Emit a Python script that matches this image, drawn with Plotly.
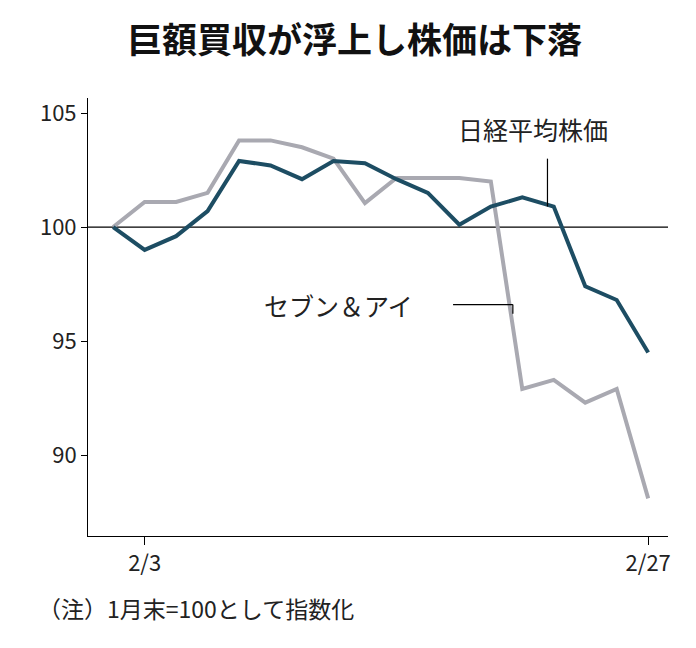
import plotly.graph_objects as go

dates = ["1/31","2/3","2/4","2/5","2/6","2/7","2/10","2/12","2/13","2/14","2/17","2/18","2/19","2/20","2/21","2/25","2/26","2/27"]
nikkei = [100,99.0,99.6,100.7,102.9,102.7,102.1,102.9,102.8,102.1,101.5,100.1,100.9,101.3,100.9,97.4,96.8,94.5]
seven = [100,101.1,101.1,101.5,103.8,103.8,103.5,103.0,101.05,102.15,102.15,102.15,102.0,92.9,93.3,92.3,92.9,88.1]
tick_vals = [1,17]
tick_text = ["2/3","2/27"]
y_ticks = [90,95,100,105]

x = list(range(len(dates)))
F = "Noto Sans CJK JP"
fig = go.Figure()
fig.add_trace(go.Scatter(x=x, y=seven, mode="lines", line=dict(color="#a9a9b1", width=4)))
fig.add_trace(go.Scatter(x=x, y=nikkei, mode="lines", line=dict(color="#1d4d63", width=4)))
fig.add_shape(type="line", xref="paper", x0=0, x1=1, y0=100, y1=100, line=dict(color="black", width=1.2), layer="below")
fig.add_shape(type="line", x0=13.8, x1=13.8, y0=100.9, y1=103.0, line=dict(color="black", width=1.2))
fig.add_shape(type="line", x0=10.8, x1=12.7, y0=96.6, y1=96.6, line=dict(color="black", width=1.2))
fig.add_shape(type="line", x0=12.7, x1=12.7, y0=96.6, y1=96.2, line=dict(color="black", width=1.2))
fig.add_annotation(x=13.35, y=104.3, text="日経平均株価", showarrow=False, font=dict(family=F, size=25, color="#222"))
fig.add_annotation(x=7.15, y=96.6, text="セブン＆アイ", showarrow=False, font=dict(family=F, size=25, color="#222"))
fig.add_annotation(xref="paper", yref="paper", x=0.46, y=1.137, yanchor="middle", text="<b>巨額買収が浮上し株価は下落</b>", showarrow=False,
                   font=dict(family=F, size=35, color="#111"))
fig.add_annotation(xref="paper", yref="paper", x=-0.09, xanchor="left", y=-0.164, yanchor="middle", text="（注）1月末=100として指数化", showarrow=False,
                   font=dict(family=F, size=23, color="#222"))
fig.update_layout(
    width=696, height=648, margin=dict(l=80, r=36, t=90, b=120),
    paper_bgcolor="white", plot_bgcolor="white", showlegend=False,
    xaxis=dict(range=[-0.8, 17.63], tickvals=tick_vals, ticktext=tick_text, showline=True, linecolor="black",
               ticks="outside", ticklen=8, tickcolor="black", showgrid=False, zeroline=False,
               tickfont=dict(family=F, size=22, color="#222")),
    yaxis=dict(range=[86.45, 105.66], tickvals=y_ticks, showline=True, linecolor="black", ticks="outside",
               ticklen=6, tickcolor="black", showgrid=False, zeroline=False,
               tickfont=dict(family=F, size=22, color="#222")),
)
fig.write_html("out.html")
